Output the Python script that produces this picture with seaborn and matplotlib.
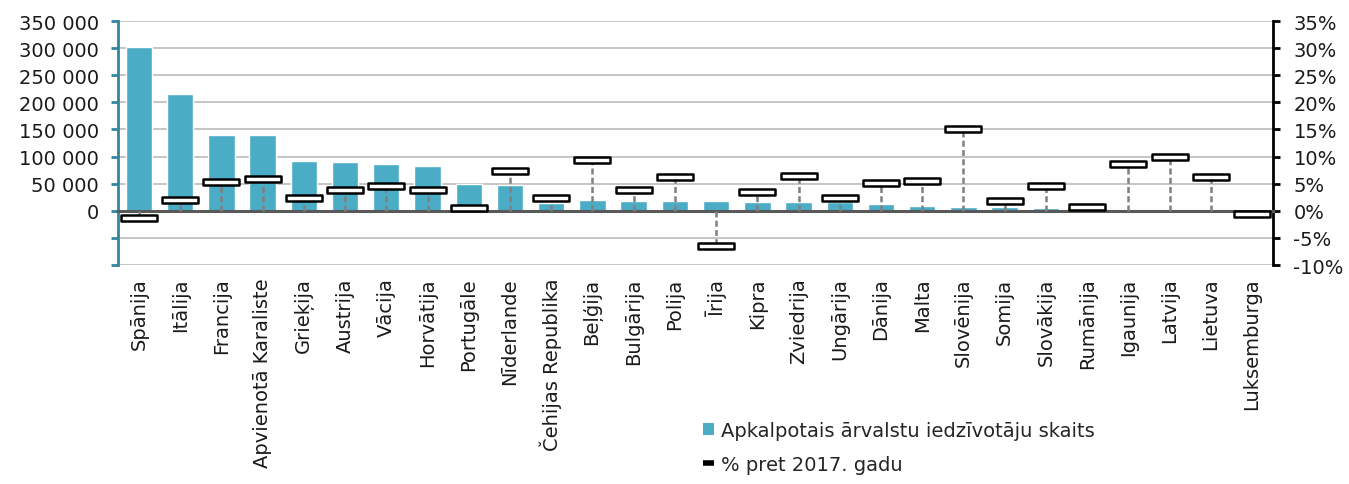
import numpy as np
import seaborn as sns
import matplotlib.pyplot as plt
from matplotlib.path import Path
from matplotlib.patches import Patch
from matplotlib.lines import Line2D
from matplotlib.ticker import FuncFormatter, MultipleLocator, FixedLocator

# Data
countries = ['Spānija', 'Itālija', 'Francija', 'Apvienotā Karaliste', 'Grieķija', 'Austrija',
             'Vācija', 'Horvātija', 'Portugāle', 'Nīderlande', 'Čehijas Republika', 'Beļģija',
             'Bulgārija', 'Polija', 'Īrija', 'Kipra', 'Zviedrija', 'Ungārija', 'Dānija', 'Malta',
             'Slovēnija', 'Somija', 'Slovākija', 'Rumānija', 'Igaunija', 'Latvija', 'Lietuva',
             'Luksemburga']
residents = [301500, 214800, 140700, 140100, 92000, 89500, 87000, 83300, 49400, 46900,
             14800, 20400, 17900, 17900, 17300, 16700, 15400, 15400, 12700, 9300,
             7400, 6200, 5000, 3500, 2500, 2000, 2000, 1500]
pct_change = [-1.35, 2.0, 5.4, 5.85, 2.4, 3.8, 4.6, 3.75, 0.5, 7.4,
              2.3, 9.3, 3.8, 6.2, -6.5, 3.5, 6.4, 2.4, 5.1, 5.5,
              15.1, 1.85, 4.6, 0.7, 8.6, 9.9, 6.3, -0.6]

bar_label = 'Apkalpotais ārvalstu iedzīvotāju skaits'
line_label = '% pret 2017. gadu'

bar_color = '#4BACC6'
left_axis_color = '#31859C'
zero_line_color = '#595959'

sns.set_style("white")
plt.rcParams['font.family'] = ['DejaVu Sans']
plt.rcParams['font.size'] = 14

fig = plt.figure(figsize=(13.49, 4.85), dpi=100)
ax = fig.add_axes([0.0877, 0.4515, 0.8557, 0.5031])

# Bars
sns.barplot(x=countries, y=residents, color=bar_color, width=0.64,
            saturation=1, ax=ax, zorder=2)
ax.set_ylim(-100000, 350000)
ax.yaxis.set_major_locator(MultipleLocator(50000))
ax.yaxis.set_major_formatter(FuncFormatter(
    lambda v, p: f"{v:,.0f}".replace(",", " ") if v >= 0 else ""))
ax.set_axisbelow(True)
ax.yaxis.grid(True, color='#C0C0C0', linewidth=1.3)
ax.xaxis.grid(False)

# Category boundaries as minor ticks (shared with the twin axis)
positions = np.arange(len(countries))
ax.xaxis.set_minor_locator(FixedLocator(positions[:-1] + 0.5))

for side in ['top', 'bottom', 'right']:
    ax.spines[side].set_visible(False)
ax.spines['left'].set_color(left_axis_color)
ax.spines['left'].set_linewidth(2)
ax.tick_params(axis='y', colors=left_axis_color, labelcolor='#1a1a1a',
               length=5, width=2, direction='out', pad=9, labelsize=14)
ax.tick_params(axis='x', which='both', length=0, pad=9, labelsize=14,
               labelrotation=90, labelcolor='#1a1a1a')
ax.set_xlabel('')
ax.set_ylabel('')

# Percentage axis
ax2 = ax.twinx()
ax2.set_ylim(-0.10, 0.35)
ax2.yaxis.set_major_locator(MultipleLocator(0.05))
ax2.yaxis.set_major_formatter(FuncFormatter(lambda v, p: f"{v * 100:.0f}%"))
ax2.tick_params(axis='y', colors='black', labelcolor='#1a1a1a', length=5, width=2,
                direction='out', pad=10, labelsize=14)
for side in ['top', 'left']:
    ax2.spines[side].set_visible(False)
ax2.spines['right'].set_color('black')
ax2.spines['right'].set_linewidth(2)

# Zero line with crossing ticks
ax2.xaxis.set_visible(True)
ax2.spines['bottom'].set_visible(True)
ax2.spines['bottom'].set_position(('data', 0))
ax2.spines['bottom'].set_color(zero_line_color)
ax2.spines['bottom'].set_linewidth(2.2)
ax2.tick_params(axis='x', which='major', length=0, labelbottom=False)
ax2.tick_params(axis='x', which='minor', length=9.5, width=2, direction='inout',
                color=zero_line_color)

pct = np.array(pct_change) / 100

# Drop lines
ax2.vlines(positions, 0, pct, colors='#7F7F7F', linewidth=1.8,
           linestyles=(0, (2.4, 1.3)), zorder=3)

# Box markers
box = Path([(-0.5, -0.09), (0.5, -0.09), (0.5, 0.09), (-0.5, 0.09), (-0.5, -0.09)],
           [Path.MOVETO, Path.LINETO, Path.LINETO, Path.LINETO, Path.CLOSEPOLY])
sns.scatterplot(x=positions, y=pct, marker=box, s=25.6 ** 2, color='white',
                edgecolor='black', linewidth=1.8, ax=ax2, zorder=4, legend=False)
ax2.set_xlim(-0.5, len(countries) - 0.5)

# Legend
handles = [
    Patch(facecolor=bar_color, edgecolor='none', label=bar_label),
    Line2D([0], [0], color='black', linewidth=4, solid_capstyle='butt', label=line_label),
]
fig.legend(handles=handles, loc='upper left', bbox_to_anchor=(0.521, 0.13),
           frameon=False, fontsize=14, handlelength=0.6, handleheight=0.6,
           handletextpad=0.35, labelspacing=0.75, borderpad=0, borderaxespad=0)

fig.savefig('out.png', dpi=100)
